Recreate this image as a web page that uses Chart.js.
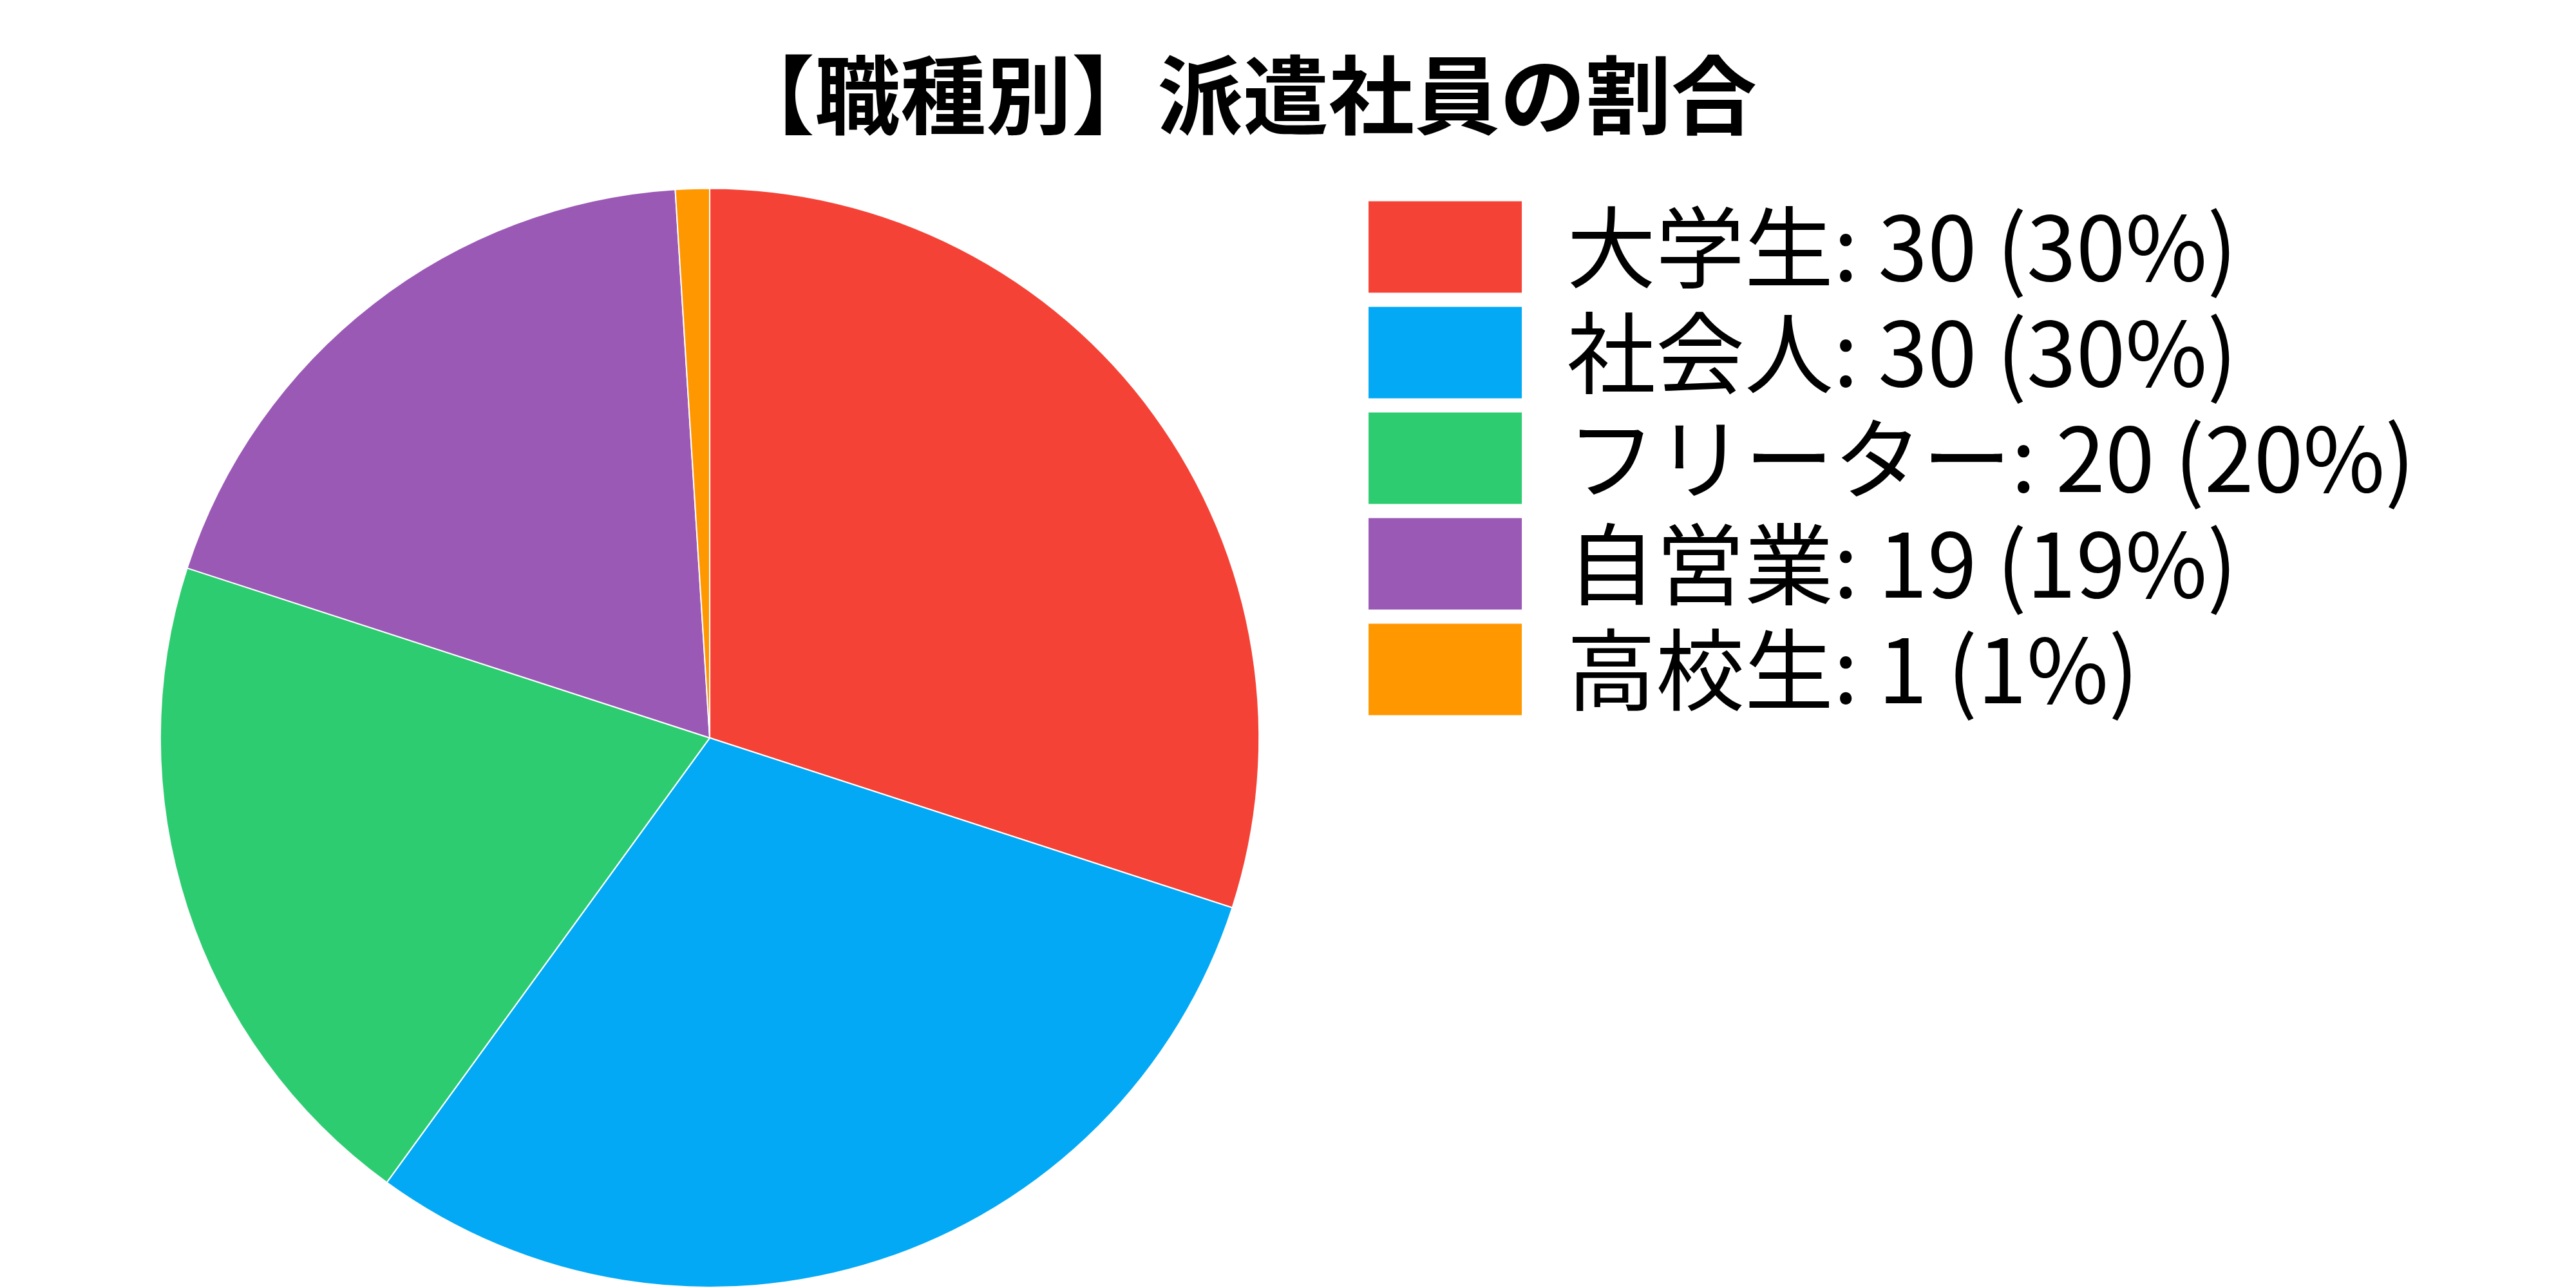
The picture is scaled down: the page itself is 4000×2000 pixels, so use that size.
<!DOCTYPE html>
<html lang="ja">
<head>
<meta charset="utf-8">
<title>【職種別】派遣社員の割合</title>
<script src="https://cdn.jsdelivr.net/npm/chart.js@4.4.1/dist/chart.umd.min.js"></script>
<style>
  html, body { margin: 0; padding: 0; background: #fff; }
  #chart { display: block; }
</style>
</head>
<body>
<canvas id="chart" width="4000" height="2000"></canvas>
<script>
// Chart data
const categories = ['大学生', '社会人', 'フリーター', '自営業', '高校生'];
const counts = [30, 30, 20, 19, 1];
const sliceColors = ['#F44336', '#03A9F4', '#2ECC71', '#9B59B6', '#FF9800'];

const chartTitle = '【職種別】派遣社員の割合';
const fontFamily = '"Noto Sans CJK JP", "Noto Sans", sans-serif';

const total = counts.reduce((a, b) => a + b, 0);

// Legend text like "大学生: 30 (30%)"
function legendText(i) {
    const pct = Math.round(counts[i] / total * 100);
    return categories[i] + ': ' + counts[i] + ' (' + pct + '%)';
}

Chart.defaults.color = '#000';
Chart.defaults.font.family = fontFamily;

const chart = new Chart(document.getElementById('chart'), {
    type: 'pie',
    data: {
        labels: categories,
        datasets: [{
            data: counts,
            backgroundColor: sliceColors,
            borderColor: '#fff',
            borderWidth: 2
        }]
    },
    options: {
        responsive: false,
        devicePixelRatio: 1,
        animation: false,
        layout: {
            padding: { left: 100, right: 240, top: 0, bottom: 0 }
        },
        plugins: {
            title: {
                display: true,
                text: chartTitle,
                color: '#000',
                font: { size: 133, weight: 'bold', family: fontFamily },
                padding: { top: 68, bottom: 64 }
            },
            legend: {
                position: 'right',
                align: 'start',
                fullSize: false,
                labels: {
                    boxWidth: 240,
                    boxHeight: 144,
                    padding: 20,
                    color: '#000',
                    font: { size: 138, family: fontFamily },
                    generateLabels: (c) => categories.map((cat, i) => ({
                        text: legendText(i),
                        fillStyle: sliceColors[i],
                        strokeStyle: '#fff',
                        lineWidth: 2,
                        hidden: !c.getDataVisibility(i),
                        index: i
                    }))
                }
            },
            tooltip: { enabled: false }
        }
    }
});
</script>
</body>
</html>
